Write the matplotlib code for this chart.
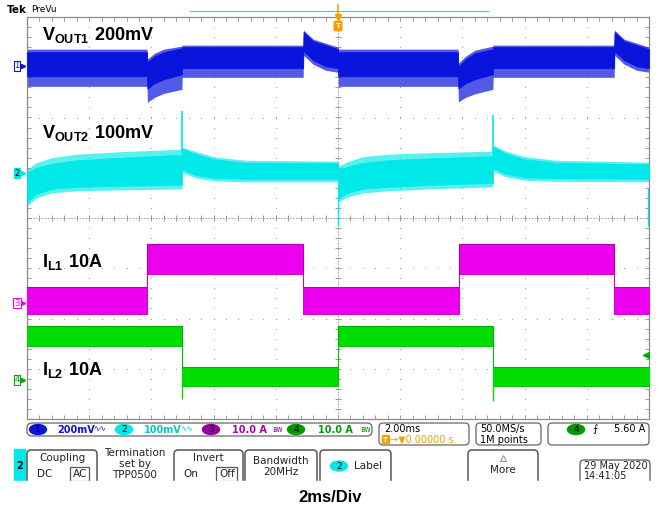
import matplotlib.pyplot as plt
import numpy as np
from matplotlib.patches import FancyBboxPatch, Rectangle, Ellipse

plt.rcParams['font.family'] = ['Liberation Sans', 'DejaVu Sans']
plt.rcParams['mathtext.fontset'] = 'custom'
plt.rcParams['mathtext.rm'] = 'Liberation Sans'
plt.rcParams['mathtext.bf'] = 'Liberation Sans:bold'

# waveform envelopes, x and y in divisions (2ms/div)
# core = dense ripple band, pk = outer extent of the noise spikes
vout1_x = [0.00, 1.93, 1.935, 2.05, 2.20, 2.49, 2.495, 4.44, 4.445, 4.60, 4.80, 5.00, 5.005,
           6.93, 6.935, 7.05, 7.20, 7.49, 7.495, 9.44, 9.445, 9.60, 9.80, 10.0]
vout1_top = [3.30, 3.30, 3.10, 3.22, 3.30, 3.38, 3.40, 3.40, 3.70, 3.52, 3.44, 3.36, 3.30,
             3.30, 3.02, 3.16, 3.28, 3.36, 3.40, 3.40, 3.70, 3.52, 3.44, 3.36]
vout1_bot = [2.82, 2.82, 2.58, 2.68, 2.76, 2.86, 2.98, 2.98, 3.32, 3.14, 3.02, 2.98, 2.82,
             2.82, 2.58, 2.68, 2.76, 2.86, 2.98, 2.98, 3.32, 3.14, 3.02, 2.98]
vout1_pk_top = [3.36, 3.36, 3.16, 3.28, 3.36, 3.42, 3.44, 3.44, 3.74, 3.56, 3.48, 3.40, 3.36,
                3.36, 3.08, 3.22, 3.34, 3.42, 3.44, 3.44, 3.74, 3.56, 3.48, 3.40]
vout1_pk_bot = [2.62, 2.62, 2.30, 2.40, 2.48, 2.56, 2.80, 2.80, 3.24, 3.06, 2.94, 2.90, 2.62,
                2.62, 2.31, 2.40, 2.47, 2.56, 2.80, 2.80, 3.24, 3.06, 2.94, 2.90]

vout2_x = [0.00, 0.15, 0.40, 0.80, 1.50, 2.49, 2.495, 2.70, 3.00, 3.50, 5.00, 5.005, 5.15,
           5.40, 5.80, 6.50, 7.49, 7.495, 7.70, 8.00, 8.50, 10.0]
vout2_top = [0.90, 1.00, 1.08, 1.15, 1.20, 1.26, 1.38, 1.28, 1.17, 1.10, 1.09, 0.96, 1.02,
             1.10, 1.15, 1.19, 1.23, 1.42, 1.28, 1.17, 1.10, 1.07]
vout2_bot = [0.32, 0.48, 0.58, 0.62, 0.64, 0.66, 0.97, 0.86, 0.80, 0.78, 0.78, 0.40, 0.50,
             0.58, 0.62, 0.66, 0.70, 0.99, 0.88, 0.81, 0.79, 0.78]
vout2_pk_top = [0.97, 1.10, 1.20, 1.27, 1.32, 1.37, 1.41, 1.33, 1.22, 1.15, 1.13, 1.03, 1.12,
                1.22, 1.27, 1.30, 1.33, 1.45, 1.33, 1.22, 1.15, 1.11]
vout2_pk_bot = [0.24, 0.40, 0.50, 0.54, 0.56, 0.58, 0.91, 0.80, 0.74, 0.72, 0.72, 0.32, 0.42,
                0.50, 0.54, 0.58, 0.62, 0.93, 0.82, 0.75, 0.73, 0.72]
vout2_spike_x = [2.49, 7.49]
vout2_spike_top = [2.13, 2.05]
vout2_dip_x = [5.0, 9.99]
vout2_dip_bot = [-0.16, -0.16]

il1_x = [0.0, 1.93, 4.44, 6.95, 9.44, 10.0]
il1_top = [-1.37, -0.52, -1.37, -0.52, -1.37, -1.37]
il1_bot = [-1.91, -1.11, -1.91, -1.11, -1.91, -1.91]

il2_x = [0.0, 2.49, 5.00, 7.49, 10.0]
il2_top = [-2.15, -2.96, -2.15, -2.96, -2.96]
il2_bot = [-2.54, -3.34, -2.54, -3.34, -3.34]
il2_spike_x = [2.49, 7.49]
il2_spike_bot = [-3.60, -3.64]

c_blue = '#0a14dc'
c_cyan = '#00e8e8'
c_mag = '#ee00ee'
c_green = '#00dd00'
c_grid = '#9a9a9a'
c_orange = '#f5a000'

fig = plt.figure(figsize=(6.59, 5.11), dpi=100)
ax = fig.add_axes([27 / 659, 1 - 419 / 511, 622 / 659, 402 / 511])
ax.set_xlim(0, 10)
ax.set_ylim(-4, 4)

# graticule: dotted majors, ticked centre cross, inward border ticks
gx, gy = np.meshgrid([1, 2, 3, 4, 6, 7, 8, 9], np.arange(-4, 4.01, 0.2))
ax.scatter(gx.ravel(), gy.ravel(), s=0.7, color=c_grid, lw=0, zorder=1)
hx, hy = np.meshgrid(np.arange(0, 10.01, 0.2), [-3, -2, -1, 1, 2, 3])
ax.scatter(hx.ravel(), hy.ravel(), s=0.7, color=c_grid, lw=0, zorder=1)
ax.axhline(0, color=c_grid, lw=0.7, ls=(0, (1.5, 1.5)), zorder=1)
ax.axvline(5, color=c_grid, lw=0.7, ls=(0, (1.5, 1.5)), zorder=1)
tk = np.arange(0, 10.01, 0.2)
ax.plot(tk, np.zeros_like(tk), ls='none', marker='|', ms=4, mew=0.7, color=c_grid, zorder=1)
tk = np.arange(-4, 4.01, 0.2)
ax.plot(np.full_like(tk, 5), tk, ls='none', marker='_', ms=4, mew=0.7, color=c_grid, zorder=1)
ax.set_xticks(np.arange(0, 10.01, 0.2))
ax.set_yticks(np.arange(-4, 4.01, 0.2))
ax.tick_params(direction='in', length=3, width=0.7, color=c_grid, top=True, right=True,
               labelbottom=False, labelleft=False)
for s in ax.spines.values():
    s.set_color('#8a8a8a')
    s.set_linewidth(0.9)

# traces: lighter noise fringe first, dense band on top
ax.fill_between(vout1_x, vout1_pk_bot, vout1_pk_top, color=c_blue, alpha=0.7, lw=0, zorder=2)
ax.fill_between(vout1_x, vout1_bot, vout1_top, color=c_blue, lw=0.5, zorder=3)
ax.fill_between(vout2_x, vout2_pk_bot, vout2_pk_top, color=c_cyan, alpha=0.65, lw=0, zorder=2)
ax.fill_between(vout2_x, vout2_bot, vout2_top, color=c_cyan, lw=0.5, zorder=3)
ax.vlines(vout2_spike_x, [1.3, 1.3], vout2_spike_top, color=c_cyan, lw=1.2, zorder=3)
ax.vlines(vout2_dip_x, vout2_dip_bot, [0.6, 0.6], color=c_cyan, lw=1.0, zorder=3)
ax.fill_between(il1_x, il1_bot, il1_top, step='post', color=c_mag, lw=0.6, zorder=3)
ax.step(il1_x, il1_top, where='post', color='#b000b0', lw=0.8, zorder=3)
ax.step(il1_x, il1_bot, where='post', color='#d000d0', lw=0.6, zorder=3)
ax.fill_between(il2_x, il2_bot, il2_top, step='post', color=c_green, lw=0.6, zorder=3)
ax.step(il2_x, il2_top, where='post', color='#00b000', lw=0.8, zorder=3)
ax.step(il2_x, il2_bot, where='post', color='#00c000', lw=0.6, zorder=3)
ax.vlines(il2_spike_x, il2_spike_bot, [-3.0, -3.0], color=c_green, lw=1.0, zorder=3)
# trigger level arrow
ax.plot([9.95], [-2.72], marker='<', ms=4, color='#00aa00', zorder=4)

# overlay in pixel coordinates for all the text and scope chrome
ov = fig.add_axes([0, 0, 1, 1], zorder=5)
ov.set_xlim(0, 659)
ov.set_ylim(511, 0)
ov.axis('off')
ov.patch.set_visible(False)

# channel labels
lab = dict(fontsize=13, color='black', va='baseline', ha='left')
ov.text(42, 40, r'$\mathbf{V_{OUT1}\ 200mV}$', **lab)
ov.text(42, 138, r'$\mathbf{V_{OUT2}\ 100mV}$', **lab)
ov.text(42, 267, r'$\mathbf{I_{L1}\ 10A}$', **lab)
ov.text(42, 375, r'$\mathbf{I_{L2}\ 10A}$', **lab)

# header
ov.text(7, 10, 'Tek', fontsize=7.5, fontweight='bold', va='center', family='DejaVu Sans')
ov.text(31, 9, 'PreVu', fontsize=6.5, va='center', family='DejaVu Sans')
ov.plot([190, 488], [11, 11], color=c_cyan, lw=0.8)
ov.plot([338, 338], [5, 19], color=c_orange, lw=1.2)
ov.plot([338], [17], marker='v', ms=4, color=c_orange)
ov.text(338, 26, 'T', fontsize=6, color='white', fontweight='bold', ha='center', va='center',
        bbox=dict(boxstyle='round,pad=0.15', fc=c_orange, ec=c_orange))

# ground markers at the left edge
markers = [('1', 66, c_blue, 'white', c_blue), ('2', 173, c_cyan, c_cyan, 'black'),
           ('3', 303, c_mag, 'white', c_mag), ('4', 380, '#00aa00', 'white', '#00aa00')]
for num, yy, ec, fc, tc in markers:
    ov.text(17, yy, num, fontsize=6, color=tc, ha='center', va='center', family='DejaVu Sans',
            bbox=dict(boxstyle='square,pad=0.1', fc=fc, ec=ec, lw=0.8))
    ov.plot([23], [yy], marker='>', ms=3, color=ec)

mono = dict(family='DejaVu Sans', va='center')

# status bar
ov.add_patch(FancyBboxPatch((27, 423), 345, 13, boxstyle='round,pad=0,rounding_size=5',
                            fc='white', ec='#666666', lw=0.9))
badges = [(38, c_blue, '1', '200mV', '∿∿', 57, 100),
          (124, c_cyan, '2', '100mV', '∿∿', 144, 187),
          (211, '#990099', '3', '10.0 A', 'ʙᴡ', 232, 278),
          (296, '#009900', '4', '10.0 A', 'ʙᴡ', 318, 366)]
txt_cols = [c_blue, '#00c8c8', '#aa00aa', '#009900']
for (bx, bc, n, val, sym, tx, sx), tc in zip(badges, txt_cols):
    ov.add_patch(Ellipse((bx, 429.5), 17, 10, color=bc))
    ov.text(bx, 430, n, fontsize=6.5, color='black', ha='center', **mono)
    ov.text(tx, 430, val, fontsize=7, color=tc, fontweight='bold', ha='left', **mono)
    ov.text(sx, 429, sym, fontsize=5.5, color=tc, ha='center', **mono)

for x0, w in [(379, 90), (476, 65), (548, 101)]:
    ov.add_patch(FancyBboxPatch((x0, 423), w, 22, boxstyle='round,pad=0,rounding_size=4',
                                fc='white', ec='#666666', lw=0.9))
ov.text(384, 429, '2.00ms', fontsize=7, color='black', ha='left', **mono)
ov.add_patch(Rectangle((382, 435), 7, 8, color=c_orange))
ov.text(385.5, 439.5, 'T', fontsize=5, color='white', fontweight='bold', ha='center', **mono)
ov.text(390, 440, '→▼0.00000 s', fontsize=7, color=c_orange, ha='left', **mono)
ov.text(480, 429, '50.0MS/s', fontsize=7, color='black', ha='left', **mono)
ov.text(480, 440, '1M points', fontsize=7, color='black', ha='left', **mono)
ov.add_patch(Ellipse((576, 429.5), 17, 10, color='#009900'))
ov.text(576, 430, '4', fontsize=6.5, color='black', ha='center', **mono)
ov.text(595, 429, '⨍', fontsize=7.5, color='black', ha='center', **mono)
ov.text(645, 429, '5.60 A', fontsize=7, color='black', ha='right', **mono)

# menu row
ov.add_patch(Rectangle((14, 449), 11, 32, color=c_cyan))
ov.text(19.5, 466, '2', fontsize=7, fontweight='bold', ha='center', **mono)
for x0, w in [(27, 70), (174, 69), (245, 72), (320, 71), (468, 70)]:
    ov.add_patch(FancyBboxPatch((x0, 450), w, 45, boxstyle='round,pad=0,rounding_size=4',
                                fc='white', ec='#555555', lw=1.1))
ov.add_patch(FancyBboxPatch((580, 460), 70, 30, boxstyle='round,pad=0,rounding_size=4',
                            fc='white', ec='#555555', lw=0.9))
ov.add_patch(Rectangle((0, 481), 659, 30, color='white', zorder=3))

menu = dict(fontsize=7.5, color='#222222', ha='center', **mono)
ov.text(62, 458, 'Coupling', **menu)
ov.text(45, 474, 'DC', **menu)
ov.text(80, 474, 'AC', **menu)
ov.add_patch(Rectangle((70, 467), 19, 14, fc='none', ec='#555555', lw=0.9))
ov.text(135, 453, 'Termination', **menu)
ov.text(135, 464, 'set by', **menu)
ov.text(135, 475, 'TPP0500', **menu)
ov.text(208, 458, 'Invert', **menu)
ov.text(191, 474, 'On', **menu)
ov.text(227, 474, 'Off', **menu)
ov.add_patch(Rectangle((216, 467), 21, 14, fc='none', ec='#555555', lw=0.9))
ov.text(281, 461, 'Bandwidth', **menu)
ov.text(281, 472, '20MHz', **menu)
ov.add_patch(Ellipse((339, 466), 17, 10, color=c_cyan))
ov.text(339, 466.5, '2', fontsize=6.5, color='black', ha='center', **mono)
ov.text(354, 466, 'Label', fontsize=7.5, color='#222222', ha='left', **mono)
ov.plot([503], [458], marker='^', ms=4, mfc='white', mec='#888888', mew=0.7)
ov.text(503, 470, 'More', **menu)
ov.text(584, 466, '29 May 2020', fontsize=7, color='#222222', ha='left', **mono)
ov.text(584, 476, '14:41:05', fontsize=7, color='#222222', ha='left', **mono)

ov.text(330, 497, '2ms/Div', fontsize=12, fontweight='bold', ha='center', va='center',
        zorder=4)

plt.savefig('out.png', dpi=100)
